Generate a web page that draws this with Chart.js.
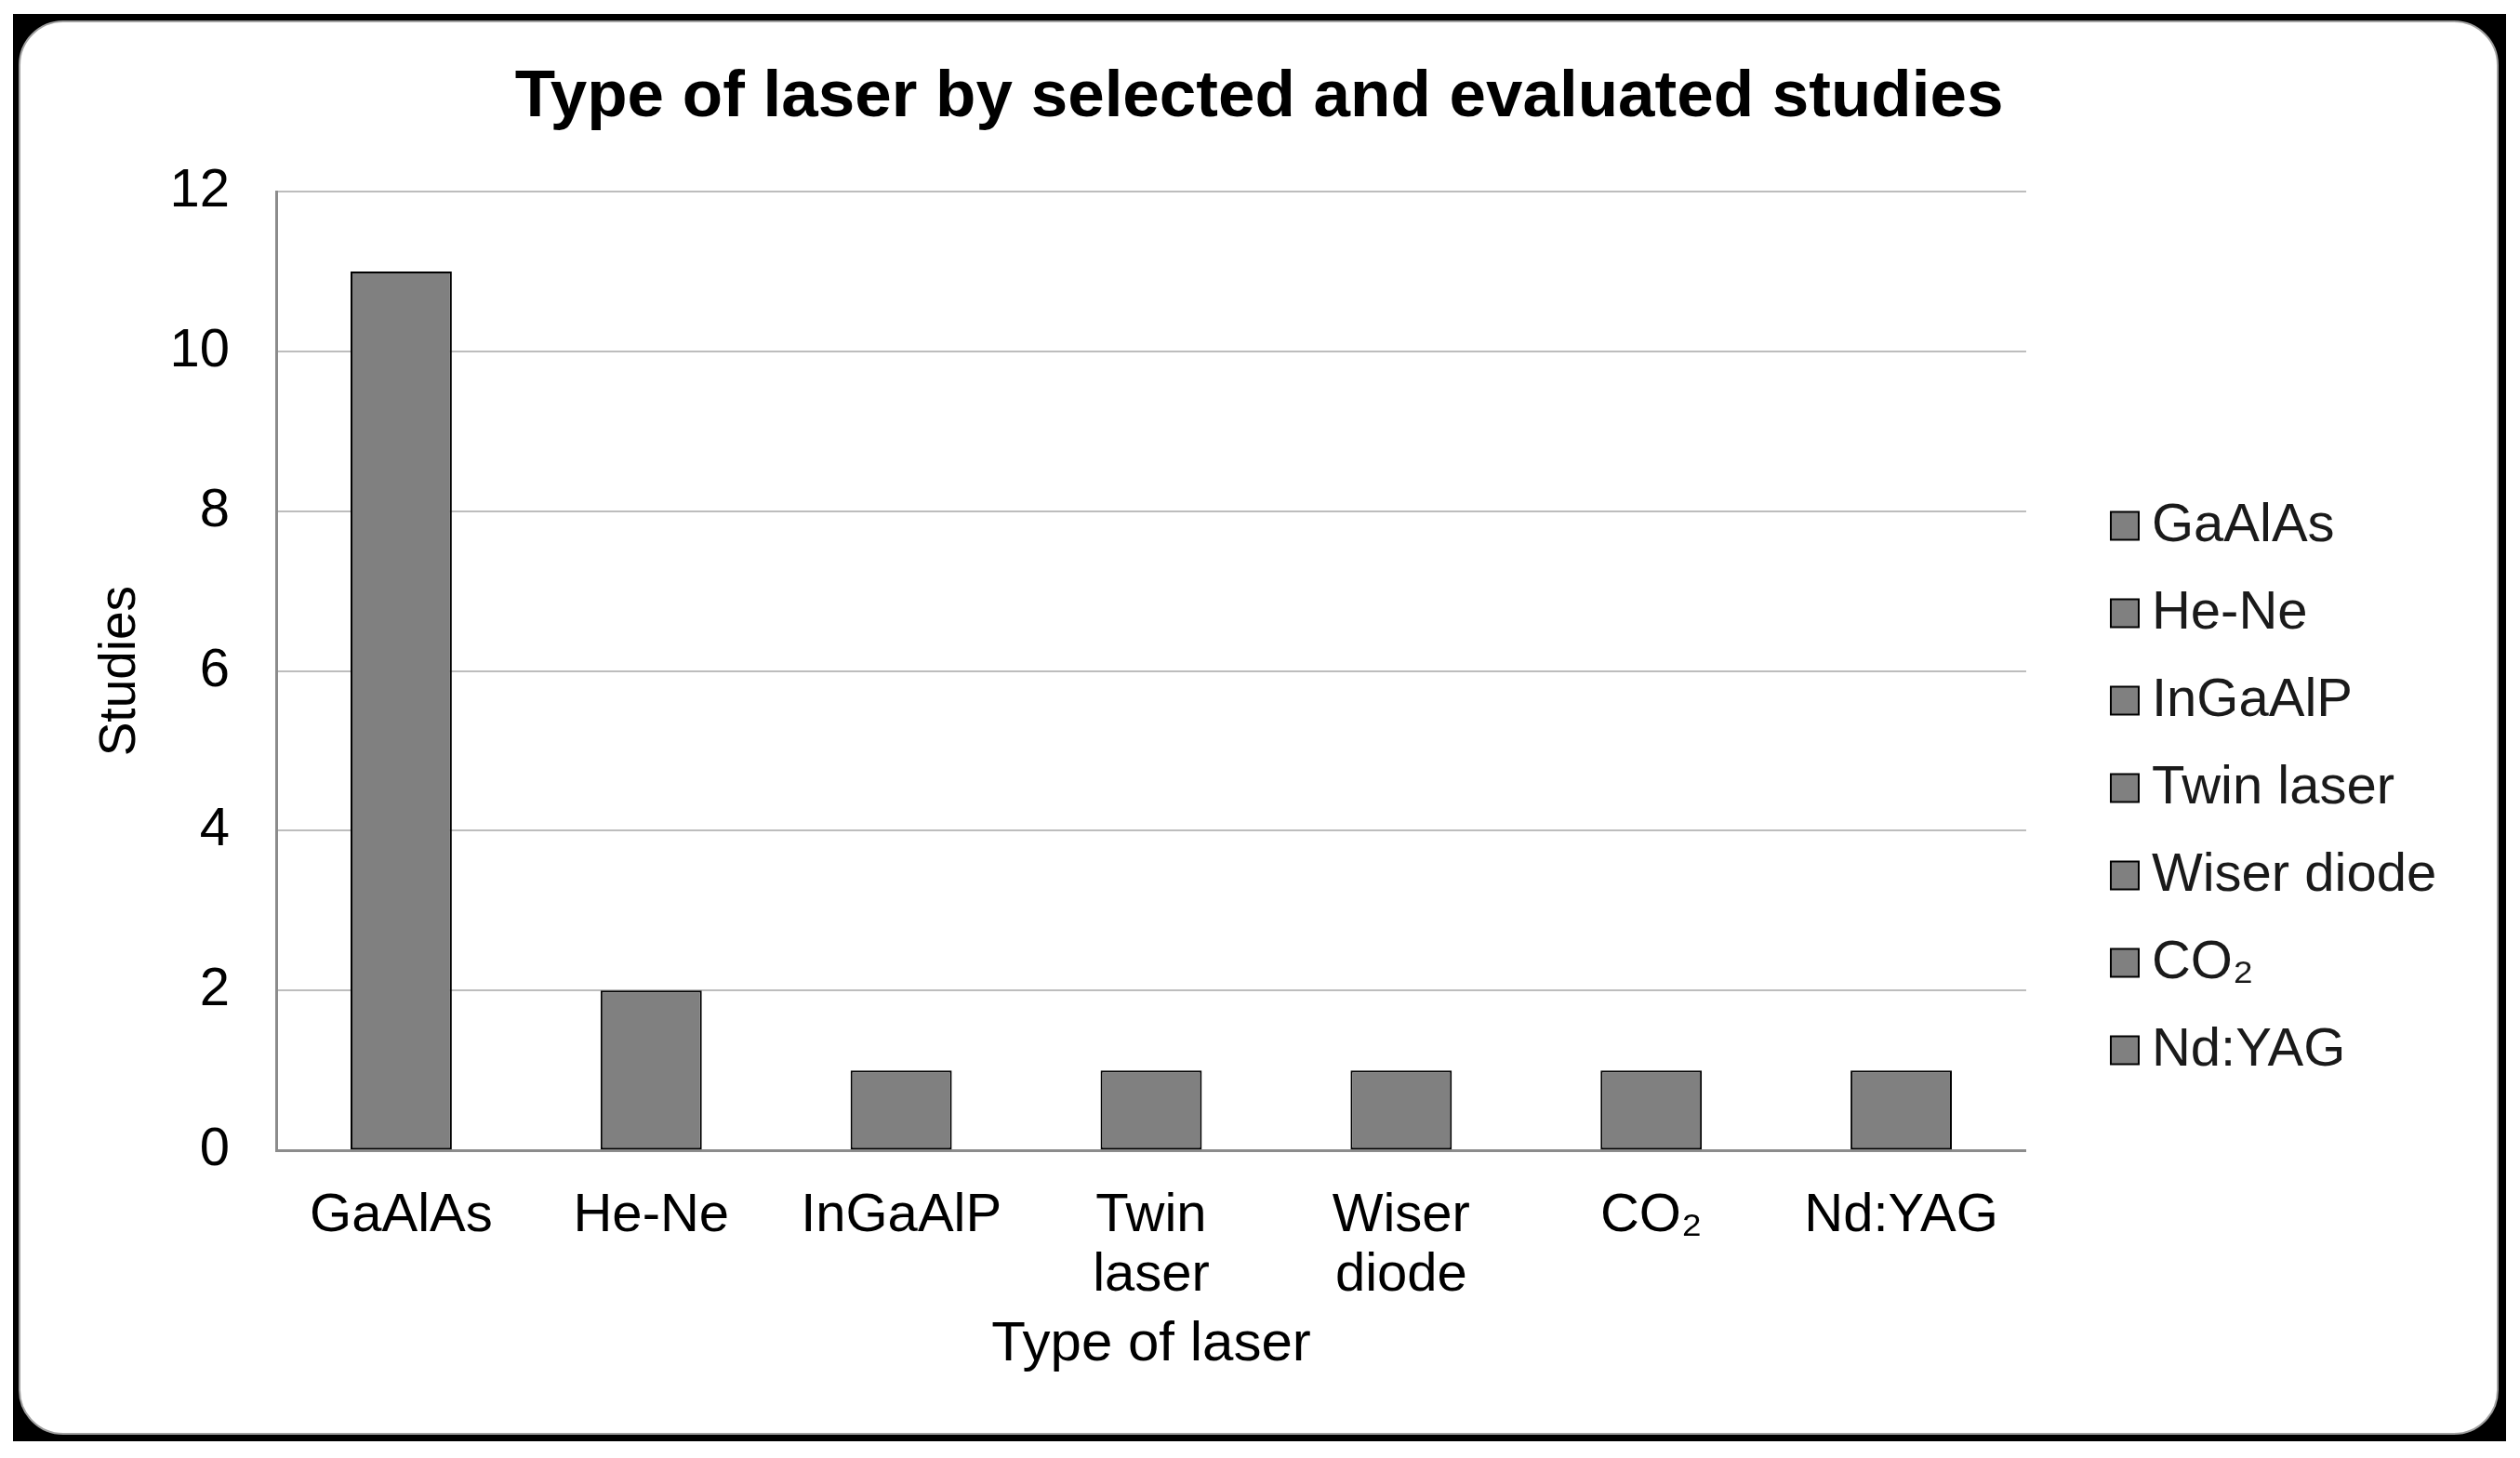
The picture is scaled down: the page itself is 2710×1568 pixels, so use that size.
<!DOCTYPE html>
<html>
<head>
<meta charset="utf-8">
<script src="https://cdn.jsdelivr.net/npm/chart.js@4.4.1/dist/chart.umd.min.js"></script>
<style>
  html, body { margin: 0; padding: 0; background: #ffffff; }
  body { width: 2710px; height: 1568px; position: relative; overflow: hidden; }
  #outer { position: absolute; left: 14px; top: 15px; width: 2681px; height: 1535px; background: #000; }
  #inner { position: absolute; left: 20px; top: 22px; width: 2667px; height: 1521px; box-sizing: border-box;
           background: #fff; border: 2px solid #a0a0a0; border-radius: 48px; }
  #c { position: absolute; left: 0; top: 0; }
</style>
</head>
<body>
<div id="outer"></div>
<div id="inner"></div>
<canvas id="c" width="2710" height="1568"></canvas>
<script>
const chartTitle = "Type of laser by selected and evaluated studies";
const categories = ["GaAlAs", "He-Ne", "InGaAlP", "Twin laser", "Wiser diode", "CO\u2082", "Nd:YAG"];
const studies = [11, 2, 1, 1, 1, 1, 1];
const yTicks = [0, 2, 4, 6, 8, 10, 12];
const xAxisTitle = "Type of laser";
const yAxisTitle = "Studies";

const FONT = "'Liberation Sans', Arial, sans-serif";
const BAR_FILL = "#808080";

new Chart(document.getElementById('c').getContext('2d'), {
  type: 'bar',
  data: {
    labels: categories,
    datasets: [{
      label: yAxisTitle,
      data: studies,
      yAxisID: 'y',
      backgroundColor: BAR_FILL,
      borderColor: '#000000',
      borderWidth: 2,
      borderSkipped: false,
      barPercentage: 0.405,
      categoryPercentage: 1.0
    }]
  },
  options: {
    responsive: false,
    animation: false,
    devicePixelRatio: 1,
    layout: { padding: { top: 20, bottom: 20, left: 77.8, right: 79.8 } },
    plugins: {
      tooltip: { enabled: false },
      title: {
        display: true,
        text: chartTitle,
        color: '#000000',
        font: { family: FONT, size: 71, weight: 'bold' },
        padding: { top: 42.4, bottom: 58.4 }
      },
      legend: {
        display: true,
        position: 'right',
        align: 'center',
        title: { display: true, text: '', padding: { top: 112.6, bottom: 0 } },
        labels: {
          usePointStyle: true,
          boxWidth: 0.01,
          boxHeight: 30,
          padding: 36,
          color: '#1a1a1a',
          font: { family: FONT, size: 58 },
          generateLabels: (chart) => categories.map((name, i) => ({
            text: name,
            fillStyle: BAR_FILL,
            strokeStyle: '#000000',
            fontColor: '#1a1a1a',
            lineWidth: 2,
            pointStyle: 'rect',
            hidden: false,
            index: i,
            datasetIndex: 0
          }))
        }
      }
    },
    scales: {
      x: {
        type: 'category',
        offset: true,
        grid: { display: false, drawTicks: false },
        border: { display: true, color: '#8c8c8c', width: 3 },
        ticks: {
          color: '#000000',
          padding: 39,
          maxRotation: 0,
          autoSkip: false,
          font: { family: FONT, size: 58, lineHeight: 1.1 },
          callback: function(value, index) {
            const c = categories[index];
            return c.indexOf(' ') >= 0 ? c.split(' ') : c;
          }
        },
        title: {
          display: true,
          text: xAxisTitle,
          color: '#000000',
          font: { family: FONT, size: 60 },
          padding: { top: -32.3, bottom: 65.5 }
        }
      },
      y: {
        type: 'linear',
        position: 'left',
        min: yTicks[0],
        max: yTicks[yTicks.length - 1],
        afterBuildTicks: (scale) => { scale.ticks = yTicks.map(v => ({ value: v })); },
        grid: { color: '#bdbdbd', lineWidth: 2, drawTicks: false },
        border: { display: true, color: '#8c8c8c', width: 3 },
        ticks: {
          color: '#000000',
          padding: 50,
          font: { family: FONT, size: 58 }
        },
        title: {
          display: true,
          text: yAxisTitle,
          color: '#000000',
          font: { family: FONT, size: 55 },
          padding: { top: 19.2, bottom: -30.5 }
        }
      },
      yR: {
        type: 'linear',
        position: 'right',
        display: true,
        grid: { display: false, drawTicks: false },
        border: { display: false },
        ticks: { display: false },
        afterFit: (s) => { s.width = 70; }
      }
    }
  }
});
</script>
</body>
</html>
